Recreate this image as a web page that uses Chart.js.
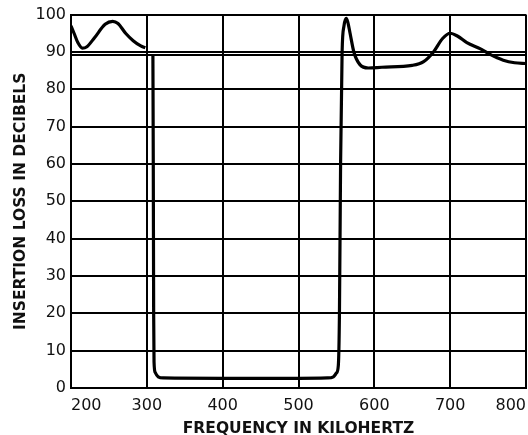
<!DOCTYPE html>
<html><head><meta charset="utf-8">
<script src="https://cdn.jsdelivr.net/npm/chart.js@4/dist/chart.umd.min.js"></script>
<style>html,body{margin:0;padding:0;background:#fff}#wrap{width:528px;height:435px}</style>
</head><body><div id="wrap"><canvas id="c" width="528" height="435"></canvas></div>
<script>
const frequencyKHz = [200,204,209,215,221,231,245,255,262,272,282,292,298,null,308,308.5,309,309.5,311,315,322,400,500,538,546,550,552.5,554,555.5,557.5,560,563,565,568,573,581,592,610,650,665,678,690,700,710,722,740,752,770,785,800];
const insertionLossDb = [97,95,92.5,91,91.4,93.8,97.4,98.2,97.6,95,93,91.6,91.1,null,89.3,60,20,7,4.2,3,2.7,2.6,2.6,2.7,3,4,6,20,60,90,97,99,98,95,90,86.6,85.7,85.9,86.4,87.4,90,93.6,95,94.2,92.5,90.8,89.4,87.8,87.1,86.9];
const xTicks = [200,300,400,500,600,700,800];
const yTicks = [0,10,20,30,40,50,60,70,80,90,100];
const xTitle = 'FREQUENCY IN KILOHERTZ';
const yTitle = 'INSERTION LOSS IN DECIBELS';
const doubleRuleAt = 89.3;

const points = frequencyKHz.map((f,i)=> f===null ? {x:NaN,y:null} : {x:f,y:insertionLossDb[i]});
const font = {family:'DejaVu Sans', size:16};
const titleFont = {family:'DejaVu Sans', size:15.5, weight:'bold'};
new Chart(document.getElementById('c'),{
  type:'line',
  data:{datasets:[{data:points,borderColor:'#000',borderWidth:3.2,pointRadius:0,cubicInterpolationMode:'monotone',spanGaps:false,fill:false}]},
  options:{
    responsive:false,animation:false,
    layout:{padding:{top:13,right:2,left:0,bottom:0}},
    plugins:{legend:{display:false},tooltip:{enabled:false}},
    scales:{
      x:{type:'linear',min:200,max:800,
        afterBuildTicks:s=>{s.ticks=xTicks.map(v=>({value:v}));},
        afterFit:s=>{s.paddingRight=0;s.paddingLeft=0;s.height=47;},
        grid:{color:'#000',lineWidth:2,drawTicks:false},
        border:{color:'#000',width:2},
        ticks:{color:'#111',font:font,padding:8,maxRotation:0,align:'inner'},
        title:{display:true,text:xTitle,color:'#111',font:titleFont,padding:{top:0,bottom:-3}}
      },
      y:{min:0,max:100,
        afterBuildTicks:s=>{s.ticks=yTicks.map(v=>({value:v})).concat([{value:doubleRuleAt}]);},
        afterFit:s=>{s.width=71;},
        grid:{color:'#000',lineWidth:2,drawTicks:false},
        border:{color:'#000',width:2},
        ticks:{color:'#111',font:font,padding:5,callback:v=>v===doubleRuleAt?'':v},
        title:{display:true,text:yTitle,color:'#111',font:titleFont,padding:{top:12,bottom:0}}
      }
    }
  }
});
</script></body></html>
